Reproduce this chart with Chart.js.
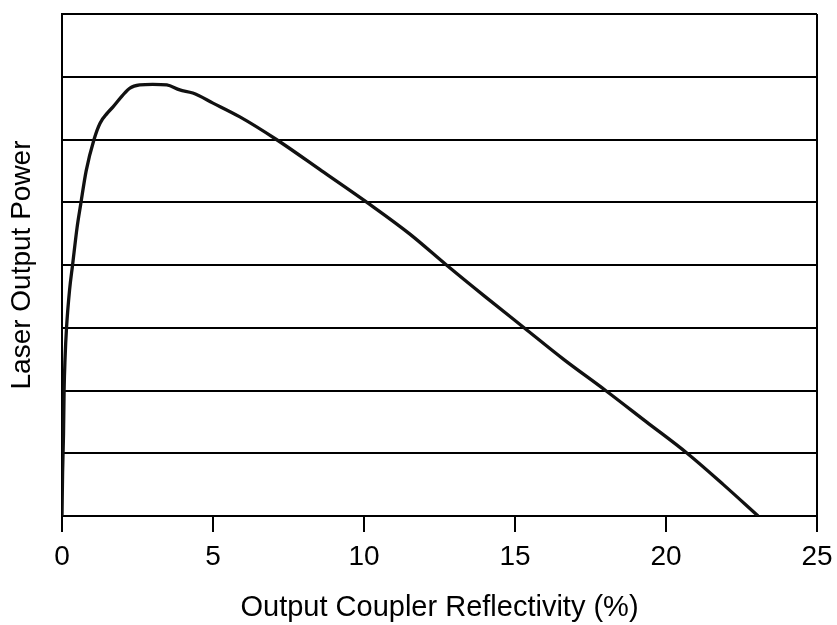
<!DOCTYPE html>
<html>
<head>
<meta charset="utf-8">
<script src="https://cdn.jsdelivr.net/npm/chart.js@4"></script>
<style>
  html, body { margin: 0; padding: 0; background: #fff; }
  #wrap { width: 837px; height: 625px; }
</style>
</head>
<body>
<div id="wrap"><canvas id="chart" width="837" height="625"></canvas></div>
<script>
// reflectivity (%)
const reflectivity = [0, 0.02, 0.05, 0.07, 0.1, 0.15, 0.25, 0.35, 0.5, 0.62, 0.8, 1.06, 1.26, 1.5, 1.69, 2.0, 2.25, 2.58, 3.0, 3.47, 3.9, 4.33, 5.0, 5.89, 7.1, 8.6, 10.18, 11.5, 12.73, 14.0, 15.3, 16.6, 18.0, 19.35, 20.7, 21.9, 23.05];
// output power, arbitrary units (one unit per grid line)
const outputPower = [0, 0.7, 1.3, 2.0, 2.5, 3.0, 3.6, 4.0, 4.6, 4.97, 5.5, 6.0, 6.26, 6.42, 6.52, 6.7, 6.82, 6.87, 6.88, 6.87, 6.79, 6.74, 6.58, 6.36, 6.0, 5.5, 4.97, 4.5, 4.0, 3.5, 3.0, 2.5, 2.0, 1.5, 1.0, 0.5, 0];
const xTicks = [0, 5, 10, 15, 20, 25];

const FONT = 'Arial, "Liberation Sans", sans-serif';

const points = reflectivity.map((x, i) => ({ x: x, y: outputPower[i] }));

new Chart(document.getElementById('chart'), {
    type: 'scatter',
    data: {
        datasets: [{
            data: points,
            showLine: true,
            borderColor: '#111',
            borderWidth: 3.3,
            pointRadius: 0,
            cubicInterpolationMode: 'monotone'
        }]
    },
    options: {
        responsive: false,
        animation: false,
        layout: { padding: { top: 14, right: 20, left: 0, bottom: 0 } },
        plugins: { legend: { display: false }, tooltip: { enabled: false } },
        scales: {
            x: {
                type: 'linear',
                min: 0,
                max: 25,
                afterBuildTicks: (scale) => { scale.ticks = xTicks.map(v => ({ value: v })); },
                afterFit: (scale) => {
                    scale.height = 109;
                    scale.paddingLeft = 0;
                    scale.paddingRight = 0;
                },
                border: { display: true, color: '#000', width: 2 },
                grid: {
                    color: (ctx) => (ctx.tick && ctx.tick.value === 25 ? '#000' : 'rgba(0,0,0,0)'),
                    tickColor: '#000',
                    lineWidth: 2,
                    tickLength: 16
                },
                ticks: { color: '#000', font: { family: FONT, size: 28 }, padding: 8, maxRotation: 0 },
                title: {
                    display: true,
                    text: 'Output Coupler Reflectivity (%)',
                    color: '#000',
                    font: { family: FONT, size: 29 },
                    padding: { top: 13, bottom: 0 }
                }
            },
            y: {
                min: 0,
                max: 8,
                afterFit: (scale) => { scale.width = 62; },
                border: { display: true, color: '#000', width: 2 },
                grid: { color: '#000', lineWidth: 2, drawTicks: false },
                ticks: { display: false, stepSize: 1 },
                title: {
                    display: true,
                    text: 'Laser Output Power',
                    color: '#000',
                    font: { family: FONT, size: 28 },
                    padding: { top: 5, bottom: 0 }
                }
            }
        }
    }
});
</script>
</body>
</html>
